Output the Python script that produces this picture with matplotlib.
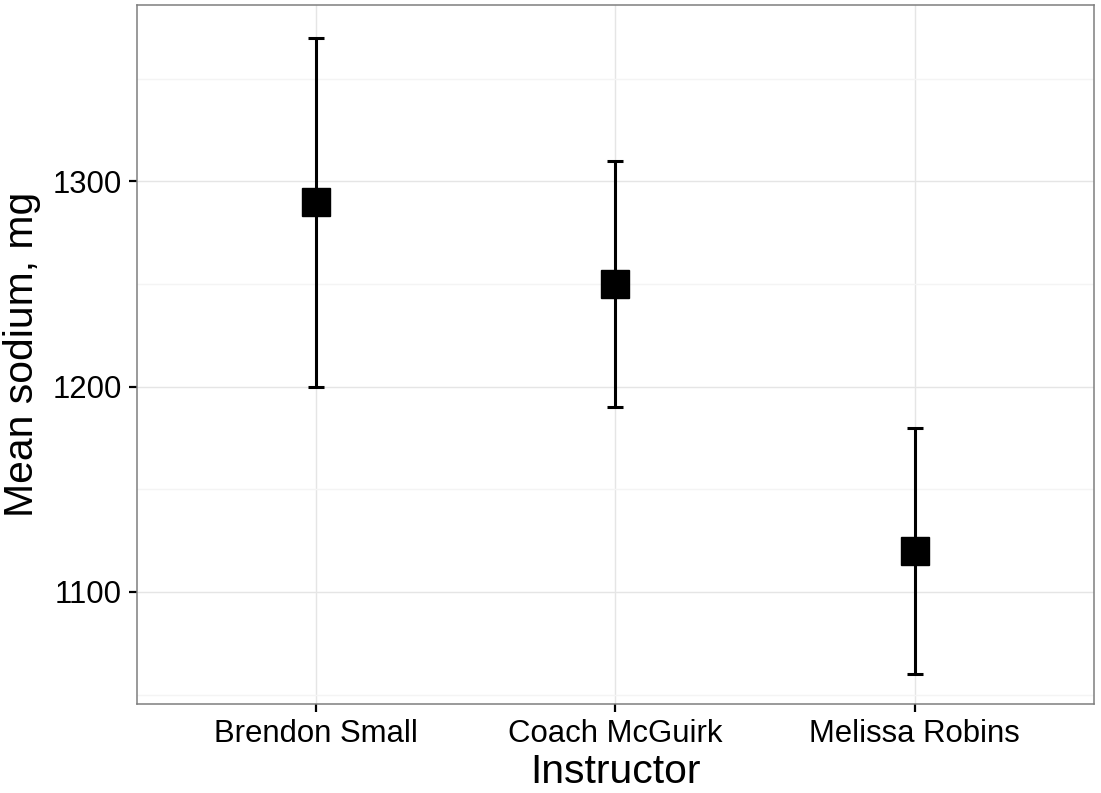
import matplotlib
matplotlib.use("Agg")
from matplotlib import pyplot as plt
from matplotlib.ticker import MultipleLocator

instructors = ['Brendon Small', 'Coach McGuirk', 'Melissa Robins']
mean_sodium = [1290, 1250, 1120]
lower = [1200, 1190, 1060]
upper = [1370, 1310, 1180]

plt.rcParams['font.family'] = ['Liberation Sans', 'DejaVu Sans']

fig = plt.figure(figsize=(11.01, 7.93), dpi=100)
ax = fig.add_axes([0.1244, 0.1122, 0.8692, 0.8815])

x = list(range(1, len(instructors) + 1))
err_lo = [m - l for m, l in zip(mean_sodium, lower)]
err_hi = [u - m for m, u in zip(mean_sodium, upper)]

ax.errorbar(x, mean_sodium, yerr=[err_lo, err_hi], fmt='none',
            ecolor='black', elinewidth=2.2, capsize=5.8, capthick=2.2, zorder=3)
ax.plot(x, mean_sodium, linestyle='none', marker='s', markersize=20,
        color='black', zorder=4)

ax.set_xlim(0.4, 3.6)
ax.set_ylim(1045.4, 1385.9)
ax.set_xticks(x)
ax.set_xticklabels(instructors)
ax.yaxis.set_major_locator(MultipleLocator(100))
ax.yaxis.set_minor_locator(MultipleLocator(50))
ax.set_yticks([1100, 1200, 1300])

# theme_bw look: light grid, grey panel border
ax.grid(which='major', color='#e5e5e5', linewidth=1.0)
ax.grid(which='minor', axis='y', color='#f4f4f4', linewidth=1.0)
ax.set_axisbelow(True)
for s in ax.spines.values():
    s.set_color('#7f7f7f')
    s.set_linewidth(1.1)

ax.tick_params(which='major', length=6, width=1.6, color='black',
               labelsize=22.4, labelcolor='black', pad=5)
ax.tick_params(which='minor', length=0)

ax.set_xlabel('Instructor', fontsize=29.4, labelpad=3)
ax.set_ylabel('Mean sodium, mg', fontsize=29.4, labelpad=8)

fig.savefig('out.png', dpi=100)
